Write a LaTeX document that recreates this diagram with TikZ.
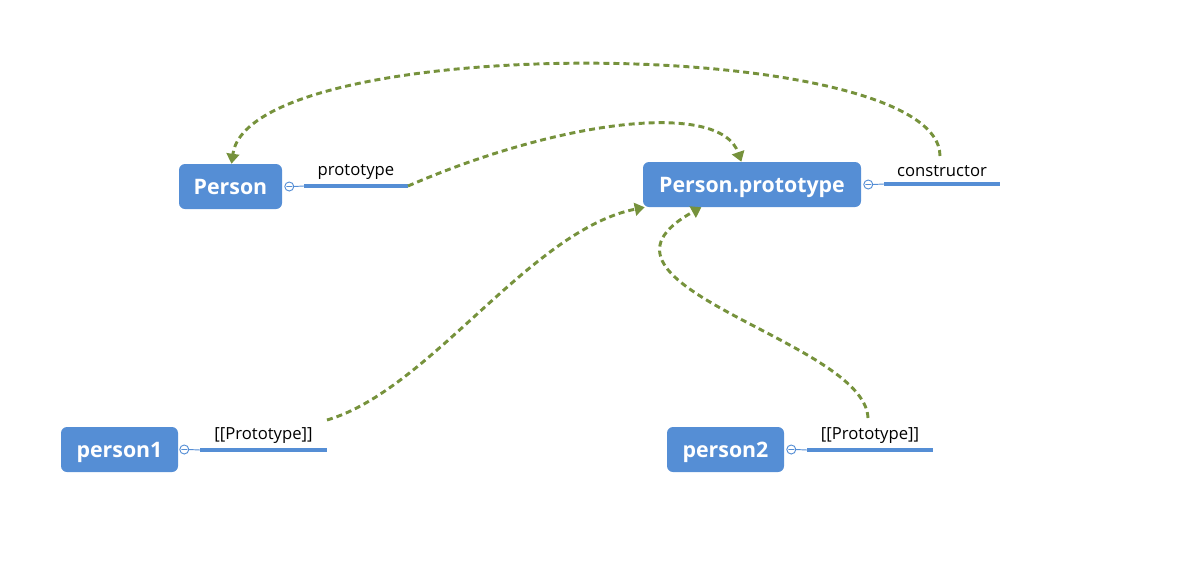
\documentclass[tikz,border=0pt]{standalone}
\usepackage{fontspec}
\setmainfont{Open Sans}
\usetikzlibrary{arrows.meta}

\definecolor{boxblue}{RGB}{85,142,213}
\definecolor{linkgreen}{RGB}{118,146,60}

\tikzset{
  objbox/.style={fill=boxblue, rounded corners=4.5pt, text=white,
    font=\fontsize{16}{18}\selectfont\bfseries, inner sep=0pt,
    text height=12.5pt, text depth=0pt},
  proplabel/.style={font=\fontsize{12.5}{14}\selectfont, text=black, inner sep=1pt, anchor=south},
  propline/.style={draw=boxblue, line width=2.3pt},
  handle/.style={draw=boxblue, line width=0.7pt},
  link/.style={draw=linkgreen, line width=2.2pt, dash pattern=on 4.5pt off 3pt,
    -{Triangle[width=9.5pt,length=7.5pt]}}
}

\begin{document}
\begin{tikzpicture}[x=0.75pt, y=-0.75pt]
  \useasboundingbox (0,0) rectangle (1194,568);

  % Objects
  \node[objbox, minimum width=77.25pt, minimum height=33.75pt] (person) at (230.5,186.5) {Person};
  \node[objbox, minimum width=163.5pt, minimum height=33.75pt] (proto) at (752,184.5) {Person.prototype};
  \node[objbox, minimum width=87.75pt, minimum height=33.75pt] (p1) at (119.5,449.5) {person1};
  \node[objbox, minimum width=87.75pt, minimum height=33.75pt] (p2) at (725.5,449.5) {person2};

  % Properties
  \coordinate (pa) at (304,186);   \coordinate (pb) at (408,186);
  \coordinate (ca) at (884,184);   \coordinate (cb) at (1000,184);
  \coordinate (qa) at (200,450);   \coordinate (qb) at (327,450);
  \coordinate (ra) at (807,450);   \coordinate (rb) at (933,450);

  % Collapse handles
  \draw[handle] (person.east) ++(7,0) circle (4.5) ++(-3,0) -- ++(6,0) ++(1.5,0) -- (pa);
  \draw[handle] (proto.east) ++(7,0) circle (4.5) ++(-3,0) -- ++(6,0) ++(1.5,0) -- (ca);
  \draw[handle] (p1.east) ++(6,0) circle (4.5) ++(-3,0) -- ++(6,0) ++(1.5,0) -- (qa);
  \draw[handle] (p2.east) ++(7,0) circle (4.5) ++(-3,0) -- ++(6,0) ++(1.5,0) -- (ra);

  \draw[propline] (pa) -- (pb) node[proplabel, midway, above=3pt] (lproto) {prototype};
  \draw[propline] (ca) -- (cb) node[proplabel, midway, above=3pt] (lcons) {constructor};
  \draw[propline] (qa) -- (qb) node[proplabel, midway, above=3pt] (lp1) {[[Prototype]]};
  \draw[propline] (ra) -- (rb) node[proplabel, midway, above=3pt] (lp2) {[[Prototype]]};

  % Links
  \coordinate (cstart) at (940,156);
  \coordinate (p1end) at (327,420);
  \coordinate (p2end) at (868,418);
  \draw[link] (cstart) .. controls (940,35) and (250,30) .. ([xshift=0.75pt]person.north);
  \draw[link] (pb) .. controls (560,120) and (720,100) .. ([xshift=-8pt]proto.north);
  \draw[link] (p1end) .. controls (430,390) and (530,230) .. ([xshift=1.5pt]proto.south west);
  \draw[link] (p2end) .. controls (865,340) and (560,285) .. ([xshift=44pt]proto.south west);
\end{tikzpicture}
\end{document}
